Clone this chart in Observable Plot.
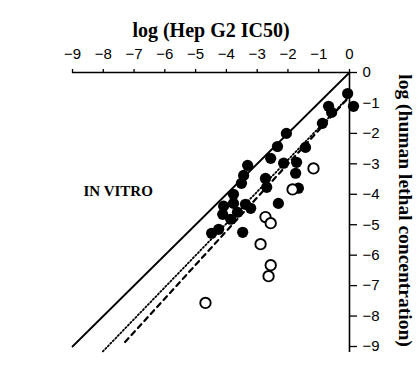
<!DOCTYPE html>
<html>
<head>
<meta charset="utf-8">
<script src="https://cdn.jsdelivr.net/npm/d3@7"></script>
<script src="https://cdn.jsdelivr.net/npm/@observablehq/plot@0.6"></script>
<style>
  html, body { margin: 0; padding: 0; background: #fff; }
  #chart svg { display: block; }
</style>
</head>
<body>
<div id="chart"></div>
<script>
// Axis ticks (log units)
const xTicks = [-9, -8, -7, -6, -5, -4, -3, -2, -1, 0];
const yTicks = [0, -1, -2, -3, -4, -5, -6, -7, -8, -9];

// Compounds with Hep G2 IC50 vs. human lethal concentration (filled symbols)
const filledX = [-0.06, 0.13, -0.68, -0.58, -0.88, -1.43, -2.05, -2.34, -2.56, -2.14, -1.72, -1.75,
                 -3.31, -3.44, -2.73, -2.69, -1.66, -2.31, -3.51, -3.77, -3.77, -4.09, -3.38, -4.12,
                 -3.64, -3.86, -4.25, -4.48, -3.47, -3.21];
const filledY = [-0.69, -1.11, -1.11, -1.31, -1.67, -2.46, -2.00, -2.43, -2.82, -2.98, -2.95, -3.31,
                 -3.05, -3.38, -3.48, -3.77, -3.80, -4.30, -3.64, -4.00, -4.30, -4.39, -4.33, -4.66,
                 -4.59, -4.82, -5.15, -5.28, -5.25, -4.46];

// Outlying compounds (open symbols)
const openX = [-1.17, -1.85, -2.73, -2.56, -2.89, -2.56, -2.63, -4.68];
const openY = [-3.15, -3.84, -4.75, -4.95, -5.64, -6.33, -6.69, -7.57];

// Line of identity and the two fitted regression lines (end points)
const identityX = [-9, 0];
const identityY = [-9, 0];
const dottedX = [-0.1, -8.03];
const dottedY = [-0.88, -9.18];
const dashedX = [-0.1, -7.38];
const dashedY = [-0.9, -8.95];

const filled = filledX.map((x, i) => ({x, y: filledY[i]}));
const open = openX.map((x, i) => ({x, y: openY[i]}));
const toPts = (xs, ys) => xs.map((x, i) => ({x, y: ys[i]}));

const serif = "'Liberation Serif', 'Times New Roman', serif";
const sans = "'Liberation Sans', Arial, sans-serif";
const fmt = d => d3.format("d")(d).replace("-", "\u2212");

const chart = Plot.plot({
  width: 419,
  height: 366,
  marginLeft: 72,
  marginRight: 70,
  marginTop: 72,
  marginBottom: 20,
  style: {background: "#fff", color: "#000"},
  x: {domain: [-9, 0]},
  y: {domain: [-9, 0]},
  marks: [
    // axis lines along the top and right edges
    Plot.ruleY([0], {x1: -9, x2: 0, stroke: "#000", strokeWidth: 1.6}),
    Plot.ruleX([0], {y1: -9.2, y2: 0, stroke: "#000", strokeWidth: 1.6}),
    Plot.axisX({anchor: "top", ticks: xTicks, tickSize: 4, tickPadding: 10, tickFormat: fmt,
      fontSize: 15, fontFamily: sans, label: null, strokeWidth: 1.3}),
    Plot.axisY({anchor: "right", ticks: yTicks, tickSize: 7, tickPadding: 6, tickFormat: fmt,
      fontSize: 15, fontFamily: sans, label: null, strokeWidth: 1.3}),
    // identity and regression lines
    Plot.line(toPts(identityX, identityY), {x: "x", y: "y", stroke: "#000", strokeWidth: 1.8}),
    Plot.line(toPts(dottedX, dottedY), {x: "x", y: "y", stroke: "#000", strokeWidth: 1.8, strokeDasharray: "1.4,2.2"}),
    Plot.line(toPts(dashedX, dashedY), {x: "x", y: "y", stroke: "#000", strokeWidth: 2.2, strokeDasharray: "5,4.5"}),
    // data points
    Plot.dot(filled, {x: "x", y: "y", r: 5.6, fill: "#000", stroke: "none"}),
    Plot.dot(open, {x: "x", y: "y", r: 5.2, fill: "#fff", stroke: "#000", strokeWidth: 1.9}),
    // titles
    Plot.text(["log (Hep G2 IC50)"], {frameAnchor: "top", dy: -50, fontSize: 20, fontWeight: "bold", fontFamily: serif, fill: "#000"}),
    Plot.text(["log (human lethal concentration)"], {frameAnchor: "right", dx: 56, dy: 1, rotate: 90, textAnchor: "middle",
      fontSize: 19.5, fontWeight: "bold", fontFamily: serif, fill: "#000"}),
    Plot.text(["IN VITRO"], {frameAnchor: "top-left", dx: 11, dy: 113, fontSize: 15, fontWeight: "bold", fontFamily: serif, fill: "#000"})
  ]
});
document.getElementById("chart").appendChild(chart);
</script>
</body>
</html>
